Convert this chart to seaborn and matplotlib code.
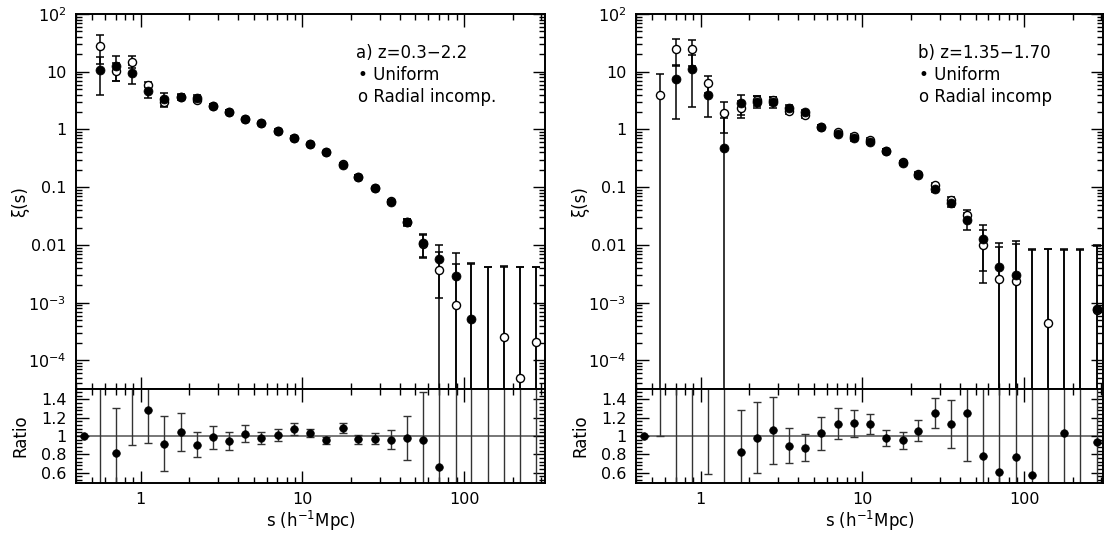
import numpy as np
import pandas as pd
import matplotlib
matplotlib.use("Agg")
import matplotlib.pyplot as plt
import seaborn as sns
from matplotlib.ticker import FixedLocator, FixedFormatter, LogLocator, MultipleLocator, NullFormatter

sns.set_theme(style="ticks")
plt.rcParams["font.family"] = ["DejaVu Sans"]
plt.rcParams["mathtext.default"] = "regular"
plt.rcParams["text.color"] = "black"
plt.rcParams["axes.labelcolor"] = "black"
plt.rcParams["xtick.color"] = "black"
plt.rcParams["ytick.color"] = "black"

nan = np.nan

# bin centres s (h^-1 Mpc)
s_bins = [0.444, 0.558, 0.703, 0.885, 1.11, 1.40, 1.77, 2.22, 2.80, 3.52, 4.44, 5.58,
          7.03, 8.85, 11.1, 14.0, 17.7, 22.2, 28.0, 35.2, 44.4, 55.8, 70.3, 88.5,
          111, 140, 177, 222, 280]

# ---------- panel a) z = 0.3-2.2 ----------
xi_uni_a = [nan, 10.9, 12.8, 9.55, 4.6, 3.35, 3.72, 3.53, 2.56, 2.04, 1.54, 1.29,
            0.96, 0.71, 0.57, 0.41, 0.244, 0.153, 0.097, 0.056, 0.0247, 0.0107, 0.0056, 0.0029,
            5.2e-4, -2e-4, -2e-4, -2e-4, -2e-4]
err_uni_a = [0, 6.9, 6.0, 3.5, 1.1, 0.85, 0.4, 0.35, 0.15, 0.1, 0.07, 0.05,
             0.04, 0.04, 0.02, 0.02, 0.012, 0.008, 0.005, 0.004, 0.003, 0.0045, 0.0044, 0.0044,
             0.0043, 0.0044, 0.0043, 0.0043, 0.0043]
xi_rad_a = [nan, 28.3, 10.4, 14.9, 6.0, 3.05, 3.6, 3.3, 2.56, 2.04, 1.54, 1.29,
            0.94, 0.72, 0.57, 0.41, 0.25, 0.153, 0.097, 0.057, 0.025, 0.0105, 0.0037, 9.2e-4,
            -1e-4, -2e-4, 2.5e-4, 4.9e-5, 2.1e-4]
err_rad_a = [0, 14.7, 3.5, 3.5, 0.6, 0.5, 0.4, 0.35, 0.15, 0.1, 0.07, 0.05,
             0.04, 0.04, 0.02, 0.02, 0.012, 0.008, 0.005, 0.004, 0.003, 0.0045, 0.0039, 0.0037,
             0.0047, 0.0044, 0.0040, 0.0041, 0.0040]
ratio_a = [1.0, 2.6, 0.816, 1.56, 1.285, 0.917, 1.043, 0.906, 0.986, 0.946, 1.025, 0.982,
           1.011, 1.079, 1.032, 0.953, 1.09, 0.964, 0.971, 0.96, 0.975, 0.96, 0.658, 0.32,
           -0.2, 0.0, -1.0, 0.0, 0.0]
rerr_a = [0.0, 2.5, 0.49, 0.66, 0.36, 0.30, 0.21, 0.135, 0.125, 0.10, 0.09, 0.067,
          0.065, 0.063, 0.047, 0.04, 0.055, 0.05, 0.06, 0.105, 0.24, 0.52, 1.0, 1.5,
          8.0, 5.0, 5.0, 5.0, 5.0]

# ---------- panel b) z = 1.35-1.70 ----------
xi_uni_b = [nan, nan, 7.4, 11.1, 3.94, 0.48, 2.85, 3.05, 3.0, 2.33, 2.01, 1.1,
            0.84, 0.70, 0.61, 0.42, 0.265, 0.163, 0.092, 0.053, 0.027, 0.0127, 0.0042, 0.0030,
            -2e-4, -2e-4, -2e-4, -2e-4, 7.9e-4]
err_uni_b = [0, 0, 5.9, 8.6, 2.3, 1.1, 1.1, 0.7, 0.6, 0.3, 0.2, 0.1,
             0.08, 0.07, 0.05, 0.03, 0.02, 0.012, 0.008, 0.008, 0.009, 0.0092, 0.0066, 0.0089,
             0.0087, 0.0087, 0.0087, 0.0087, 0.0092]
xi_rad_b = [nan, 4.0, 25.1, 24.4, 6.46, 1.93, 2.36, 3.2, 3.2, 2.1, 1.78, 1.1,
            0.89, 0.76, 0.65, 0.42, 0.27, 0.17, 0.111, 0.061, 0.033, 0.010, 0.0026, 0.0024,
            -2e-4, 4.4e-4, -2e-4, -2e-4, 7.5e-4]
err_rad_b = [0, 5.2, 12.5, 11.6, 2.1, 1.05, 0.75, 0.6, 0.5, 0.25, 0.18, 0.09,
             0.07, 0.06, 0.05, 0.03, 0.02, 0.012, 0.008, 0.007, 0.007, 0.0078, 0.0065, 0.0080,
             0.0085, 0.0081, 0.0085, 0.0085, 0.0088]
ratio_b = [1.0, 2.2, 3.4, 2.2, 1.64, 4.0, 0.83, 0.982, 1.061, 0.892, 0.874, 1.032,
           1.133, 1.137, 1.13, 0.978, 0.953, 1.058, 1.249, 1.133, 1.256, 0.78, 0.607, 0.772,
           0.571, 0.0, 1.033, 0.0, 0.93]
rerr_b = [0.0, 1.2, 3.0, 1.8, 1.06, 3.8, 0.45, 0.39, 0.37, 0.19, 0.15, 0.18,
          0.17, 0.15, 0.11, 0.09, 0.09, 0.117, 0.167, 0.26, 0.53, 0.8, 1.5, 2.0,
          3.0, 5.0, 4.0, 5.0, 4.0]

panel_titles = ["a) z=0.3\u22122.2", "b) z=1.35\u22121.70"]
series_names = ["Uniform", "Radial incomp.", "Radial incomp"]

ytick_vals = [1e-4, 1e-3, 0.01, 0.1, 1, 10, 100]
ytick_labels = ["$10^{-4}$", "$10^{-3}$", "0.01", "0.1", "1", "10", "$10^{2}$"]
xtick_vals = [1, 10, 100]
xtick_labels = ["1", "10", "100"]
rtick_vals = [0.6, 0.8, 1.0, 1.2, 1.4]
rtick_labels = ["0.6", "0.8", "1", "1.2", "1.4"]

W, H = 1104, 534
fig = plt.figure(figsize=(W / 100, H / 100), dpi=100)
fig.patch.set_facecolor("white")

FS = 12
TFS = 11.5
y_top, y_mid, y_bot = 1 - 14 / H, 1 - 389.3 / H, 1 - 482.7 / H
panels = [
    dict(x0=76 / W, w=469 / W, xmax=10 ** 2.50),
    dict(x0=636 / W, w=467 / W, xmax=10 ** 2.487),
]


def style_axis(ax):
    for sp in ax.spines.values():
        sp.set_linewidth(1.4)
        sp.set_color("black")
    ax.tick_params(which="both", direction="in", top=True, right=True,
                   color="black", labelcolor="black", width=1.0, labelsize=TFS, pad=7)
    ax.tick_params(which="major", length=9)
    ax.tick_params(which="minor", length=4.5)
    ax.set_facecolor("white")


datasets = [
    (xi_uni_a, err_uni_a, xi_rad_a, err_rad_a, ratio_a, rerr_a, series_names[1]),
    (xi_uni_b, err_uni_b, xi_rad_b, err_rad_b, ratio_b, rerr_b, series_names[2]),
]

for i, (p, d) in enumerate(zip(panels, datasets)):
    xu, eu, xr, er, rat, rer, rad_name = d
    ax = fig.add_axes([p["x0"], y_mid, p["w"], y_top - y_mid])
    axr = fig.add_axes([p["x0"], y_bot, p["w"], y_mid - y_bot], sharex=ax)

    df = pd.DataFrame({"s": s_bins, "uni": xu, "eu": eu, "rad": xr, "er": er,
                       "ratio": rat, "rerr": rer})

    ax.set_xscale("log")
    ax.set_yscale("log")
    ax.set_xlim(10 ** -0.40, p["xmax"])
    ax.set_ylim(10 ** -4.5, 100)

    # error bars
    ax.errorbar(df["s"], df["rad"], yerr=df["er"], fmt="none", ecolor="black",
                elinewidth=1.1, capsize=3.2, capthick=1.1, zorder=1)
    ax.errorbar(df["s"], df["uni"], yerr=df["eu"], fmt="none", ecolor="black",
                elinewidth=1.1, capsize=3.2, capthick=1.1, zorder=1)

    dr = df[df["rad"] > 0]
    du = df[df["uni"] > 0]
    sns.scatterplot(data=dr, x="s", y="rad", ax=ax, color="white", edgecolor="black",
                    linewidth=1.0, s=34, zorder=3, legend=False)
    sns.scatterplot(data=du, x="s", y="uni", ax=ax, color="black", edgecolor="black",
                    linewidth=0.5, s=42, zorder=4, legend=False)

    style_axis(ax)
    ax.yaxis.set_major_locator(FixedLocator(ytick_vals))
    ax.yaxis.set_major_formatter(FixedFormatter(ytick_labels))
    ax.yaxis.set_minor_locator(LogLocator(base=10, subs=np.arange(2, 10), numticks=20))
    ax.yaxis.set_minor_formatter(NullFormatter())
    ax.xaxis.set_major_locator(FixedLocator(xtick_vals))
    ax.xaxis.set_minor_locator(LogLocator(base=10, subs=np.arange(2, 10), numticks=20))
    ax.tick_params(axis="x", which="both", labelbottom=False)
    ax.set_xlabel("")
    ax.set_ylabel("\u03be(s)", fontsize=FS)
    ax.yaxis.set_label_coords(-0.100, 0.5)

    # legend-like annotations
    tx = 0.598 if i == 0 else 0.603
    ax.text(tx, 0.896, panel_titles[i], transform=ax.transAxes, fontsize=FS,
            va="center", ha="left")
    ax.text(tx + 0.004, 0.838, "\u2022 Uniform", transform=ax.transAxes, fontsize=FS,
            va="center", ha="left")
    ax.text(tx + 0.004, 0.780, "o " + rad_name, transform=ax.transAxes, fontsize=FS,
            va="center", ha="left")

    # ratio panel
    axr.set_ylim(0.49, 1.51)
    axr.axhline(1.0, color="#777777", lw=1.4, zorder=0)
    axr.errorbar(df["s"], df["ratio"], yerr=df["rerr"], fmt="none", ecolor="#333333",
                 elinewidth=1.0, capsize=3.2, capthick=1.0, zorder=1)
    sns.scatterplot(data=df, x="s", y="ratio", ax=axr, color="black", edgecolor="black",
                    linewidth=0.5, s=30, zorder=4, legend=False)
    style_axis(axr)
    axr.set_xscale("log")
    axr.set_xlim(10 ** -0.40, p["xmax"])
    axr.xaxis.set_major_locator(FixedLocator(xtick_vals))
    axr.xaxis.set_major_formatter(FixedFormatter(xtick_labels))
    axr.xaxis.set_minor_locator(LogLocator(base=10, subs=np.arange(2, 10), numticks=20))
    axr.xaxis.set_minor_formatter(NullFormatter())
    axr.yaxis.set_major_locator(FixedLocator(rtick_vals))
    axr.yaxis.set_major_formatter(FixedFormatter(rtick_labels))
    axr.yaxis.set_minor_locator(MultipleLocator(0.04))
    axr.tick_params(axis="x", which="both", labelbottom=True, pad=7)
    axr.set_xlabel("s (h$^{-1}$Mpc)", fontsize=FS)
    axr.xaxis.set_label_coords(0.5, -0.285)
    axr.set_ylabel("Ratio", fontsize=FS)
    axr.yaxis.set_label_coords(-0.100, 0.5)

fig.savefig("out.png", dpi=100, facecolor="white")
